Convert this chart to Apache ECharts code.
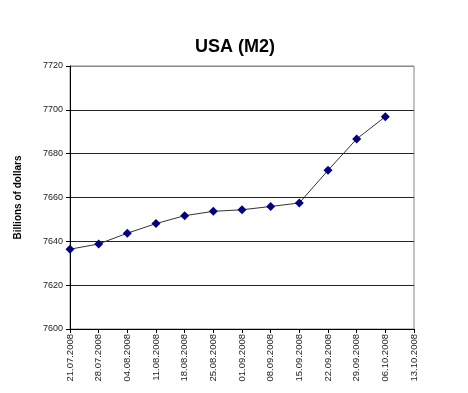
<!DOCTYPE html>
<html>
<head>
<meta charset="utf-8">
<script src="https://cdn.jsdelivr.net/npm/echarts@6/dist/echarts.min.js"></script>
<style>html,body{margin:0;padding:0;background:#fff}#c{width:468px;height:393px}</style>
</head>
<body>
<div id="c"></div>
<script>
const categories = ['21.07.2008','28.07.2008','04.08.2008','11.08.2008','18.08.2008','25.08.2008','01.09.2008','08.09.2008','15.09.2008','22.09.2008','29.09.2008','06.10.2008','13.10.2008'];
const m2Values = [7636.4, 7638.8, 7643.7, 7648.1, 7651.7, 7653.7, 7654.4, 7655.9, 7657.5, 7672.4, 7686.7, 7696.9, null];
const yTicks = {min: 7600, max: 7720, interval: 20};

const chart = echarts.init(document.getElementById('c'));
chart.setOption({
  animation: false,
  backgroundColor: '#fff',
  title: {
    text: 'USA (M2)', left: 190, top: 33,
    textStyle: {fontFamily: 'Liberation Sans', fontSize: 18, fontWeight: 'bold', color: '#000'}
  },
  grid: {left: 70, right: 54, top: 66, bottom: 64, show: true, borderColor: '#888', borderWidth: 1, backgroundColor: '#fff'},
  xAxis: {
    type: 'category', data: categories, boundaryGap: false,
    axisLine: {lineStyle: {color: '#000', width: 1}},
    axisTick: {show: true, length: 4, lineStyle: {color: '#000'}},
    axisLabel: {rotate: 90, fontFamily: 'Liberation Sans', fontSize: 9.5, color: '#222', margin: 5, interval: 0},
    splitLine: {show: false}
  },
  yAxis: {
    type: 'value', min: yTicks.min, max: yTicks.max, interval: yTicks.interval,
    name: 'Billions of dollars', nameLocation: 'middle', nameGap: 47, nameRotate: 90,
    nameTextStyle: {fontFamily: 'Liberation Sans', fontSize: 10, fontWeight: 'bold', color: '#000'},
    axisLine: {show: true, lineStyle: {color: '#000', width: 1}},
    axisTick: {show: true, length: 4, lineStyle: {color: '#000'}},
    axisLabel: {fontFamily: 'Liberation Sans', fontSize: 9, color: '#222', margin: 7, formatter: v => String(v)},
    splitLine: {show: true, lineStyle: {color: ['#222','#222','#222','#222','#222','#222','#888'], width: 1}}
  },
  series: [{
    type: 'line', data: m2Values, connectNulls: false,
    symbol: 'diamond', symbolSize: 9,
    itemStyle: {color: '#000080'},
    lineStyle: {color: '#333', width: 1}
  }]
});
</script>
</body>
</html>
